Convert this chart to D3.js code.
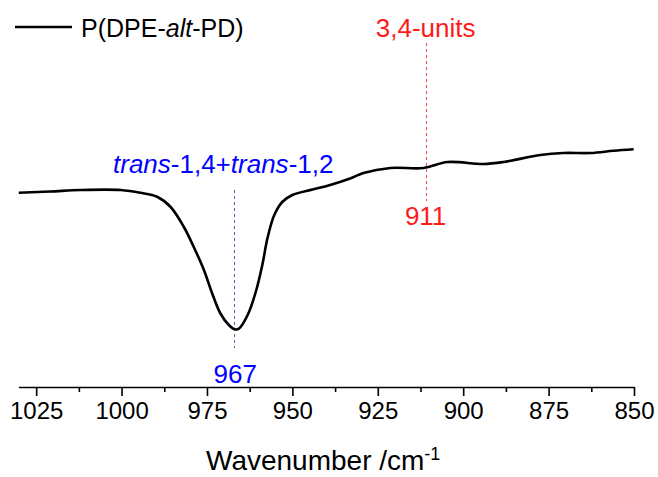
<!DOCTYPE html>
<html>
<head>
<meta charset="utf-8">
<script src="https://cdn.jsdelivr.net/npm/d3@7"></script>
<style>
  html, body { margin: 0; padding: 0; background: #fff; }
  svg { display: block; font-family: "Liberation Sans", Arial, sans-serif; }
</style>
</head>
<body>
<svg id="chart" width="658" height="477"></svg>
<script>
// Wavenumber (cm^-1) and transmittance (a.u.)
const wavenumbers = [1030.1, 1020.8, 1012.0, 1000.3, 994.5, 989.6, 985.7, 981.8, 978.9, 975.9,
  973.5, 971.1, 968.6, 966.7, 965.6, 963.1, 960.7, 958.8, 957.3, 955.3,
  952.9, 950.0, 944.1, 939.2, 932.9, 929.2, 921.3, 911.6, 904.6, 894.1,
  888.2, 877.4, 870.7, 862.7, 856.0, 850.1];
const transmittance = [77.7, 78.2, 78.8, 78.8, 77.7, 76.1, 72.1, 64.1, 56.1, 46.8,
  37.5, 29.5, 24.8, 23.0, 23.4, 28.8, 38.1, 48.8, 59.5, 68.8,
  74.1, 76.8, 79.0, 80.7, 83.5, 85.6, 87.6, 87.6, 90.0, 89.2,
  90.0, 92.8, 93.6, 93.6, 94.5, 95.1];
const majorTicks = [1025, 1000, 975, 950, 925, 900, 875, 850];
const minorTicks = [1012.5, 987.5, 962.5, 937.5, 912.5, 887.5, 862.5];
const seriesName = ["P(DPE-", "alt", "-PD)"];
const xTitle = "Wavenumber /cm";
const xTitleSup = "-1";
const peakMain = 967;
const peakMainLabel = "967";
const peakMainNote = [["trans", true], ["-1,4+", false], ["trans", true], ["-1,2", false]];
const peakMinor = 911;
const peakMinorLabel = "911";
const peakMinorNote = "3,4-units";

const svg = d3.select("#chart");
const x = d3.scaleLinear().domain([1030.2, 850]).range([18.4, 634]);
const y = d3.scaleLinear().domain([0, 100]).range([387, 137]);

const blue = "#0000ff", red = "#ff1a1a";
const snap = v => Math.round(v) + 0.5;

// axis
const axisY = 387;
const gAxis = svg.append("g").attr("transform", `translate(0,${axisY})`);
gAxis.call(d3.axisBottom(x).tickValues(majorTicks).tickSize(9).tickSizeOuter(0).tickPadding(6).tickFormat(d3.format("d")));
gAxis.select(".domain").attr("stroke", "#000").attr("stroke-width", 1.6);
gAxis.selectAll(".tick line").attr("stroke", "#000").attr("stroke-width", 1.6);
gAxis.selectAll(".tick text").attr("fill", "#000").style("font-size", "24px")
  .style("font-family", '"Liberation Sans", Arial, sans-serif');
const gMinor = svg.append("g").attr("transform", `translate(0,${axisY})`);
gMinor.call(d3.axisBottom(x).tickValues(minorTicks).tickSize(5).tickSizeOuter(0).tickFormat(""));
gMinor.select(".domain").remove();
gMinor.selectAll(".tick line").attr("stroke", "#000").attr("stroke-width", 1.6);

// axis title
const title = svg.append("text").attr("x", 206).attr("y", 470)
  .style("font-size", "28px").attr("fill", "#000");
title.append("tspan").text(xTitle);
title.append("tspan").text(xTitleSup).style("font-size", "18px").attr("dy", -10);

// dashed markers
svg.append("line").attr("x1", snap(x(peakMain))).attr("x2", snap(x(peakMain))).attr("y1", 190).attr("y2", 348)
  .attr("stroke", "#5a5ab8").attr("stroke-width", 1).attr("stroke-dasharray", "3,3");
svg.append("line").attr("x1", snap(x(peakMinor))).attr("x2", snap(x(peakMinor))).attr("y1", 43).attr("y2", 201)
  .attr("stroke", "#f04848").attr("stroke-width", 1).attr("stroke-dasharray", "3,3");

// curve
const data = wavenumbers.map((w, i) => ({ w, t: transmittance[i] }));
const line = d3.line().x(d => x(d.w)).y(d => y(d.t)).curve(d3.curveCatmullRom.alpha(0.5));
svg.append("path").datum(data).attr("d", line).attr("fill", "none")
  .attr("stroke", "#000").attr("stroke-width", 2.6).attr("stroke-linejoin", "round");

// annotations
const note = svg.append("text").attr("x", 113).attr("y", 173).style("font-size", "26px").attr("fill", blue);
peakMainNote.forEach(([t, it]) => note.append("tspan").text(t).style("font-style", it ? "italic" : "normal"));
svg.append("text").attr("x", x(peakMain) + 1).attr("y", 383).attr("text-anchor", "middle")
  .style("font-size", "26px").attr("fill", blue).text(peakMainLabel);
svg.append("text").attr("x", x(peakMinor)).attr("y", 37).attr("text-anchor", "middle")
  .style("font-size", "26px").attr("fill", red).text(peakMinorNote);
svg.append("text").attr("x", x(peakMinor)).attr("y", 225).attr("text-anchor", "middle")
  .style("font-size", "26px").attr("fill", red).text(peakMinorLabel);

// legend
svg.append("line").attr("x1", 15).attr("x2", 72).attr("y1", 27).attr("y2", 27)
  .attr("stroke", "#000").attr("stroke-width", 2.6);
const leg = svg.append("text").attr("x", 81).attr("y", 37).style("font-size", "25px").attr("fill", "#000");
seriesName.forEach((t, i) => leg.append("tspan").text(t).style("font-style", i === 1 ? "italic" : "normal"));
</script>
</body>
</html>
